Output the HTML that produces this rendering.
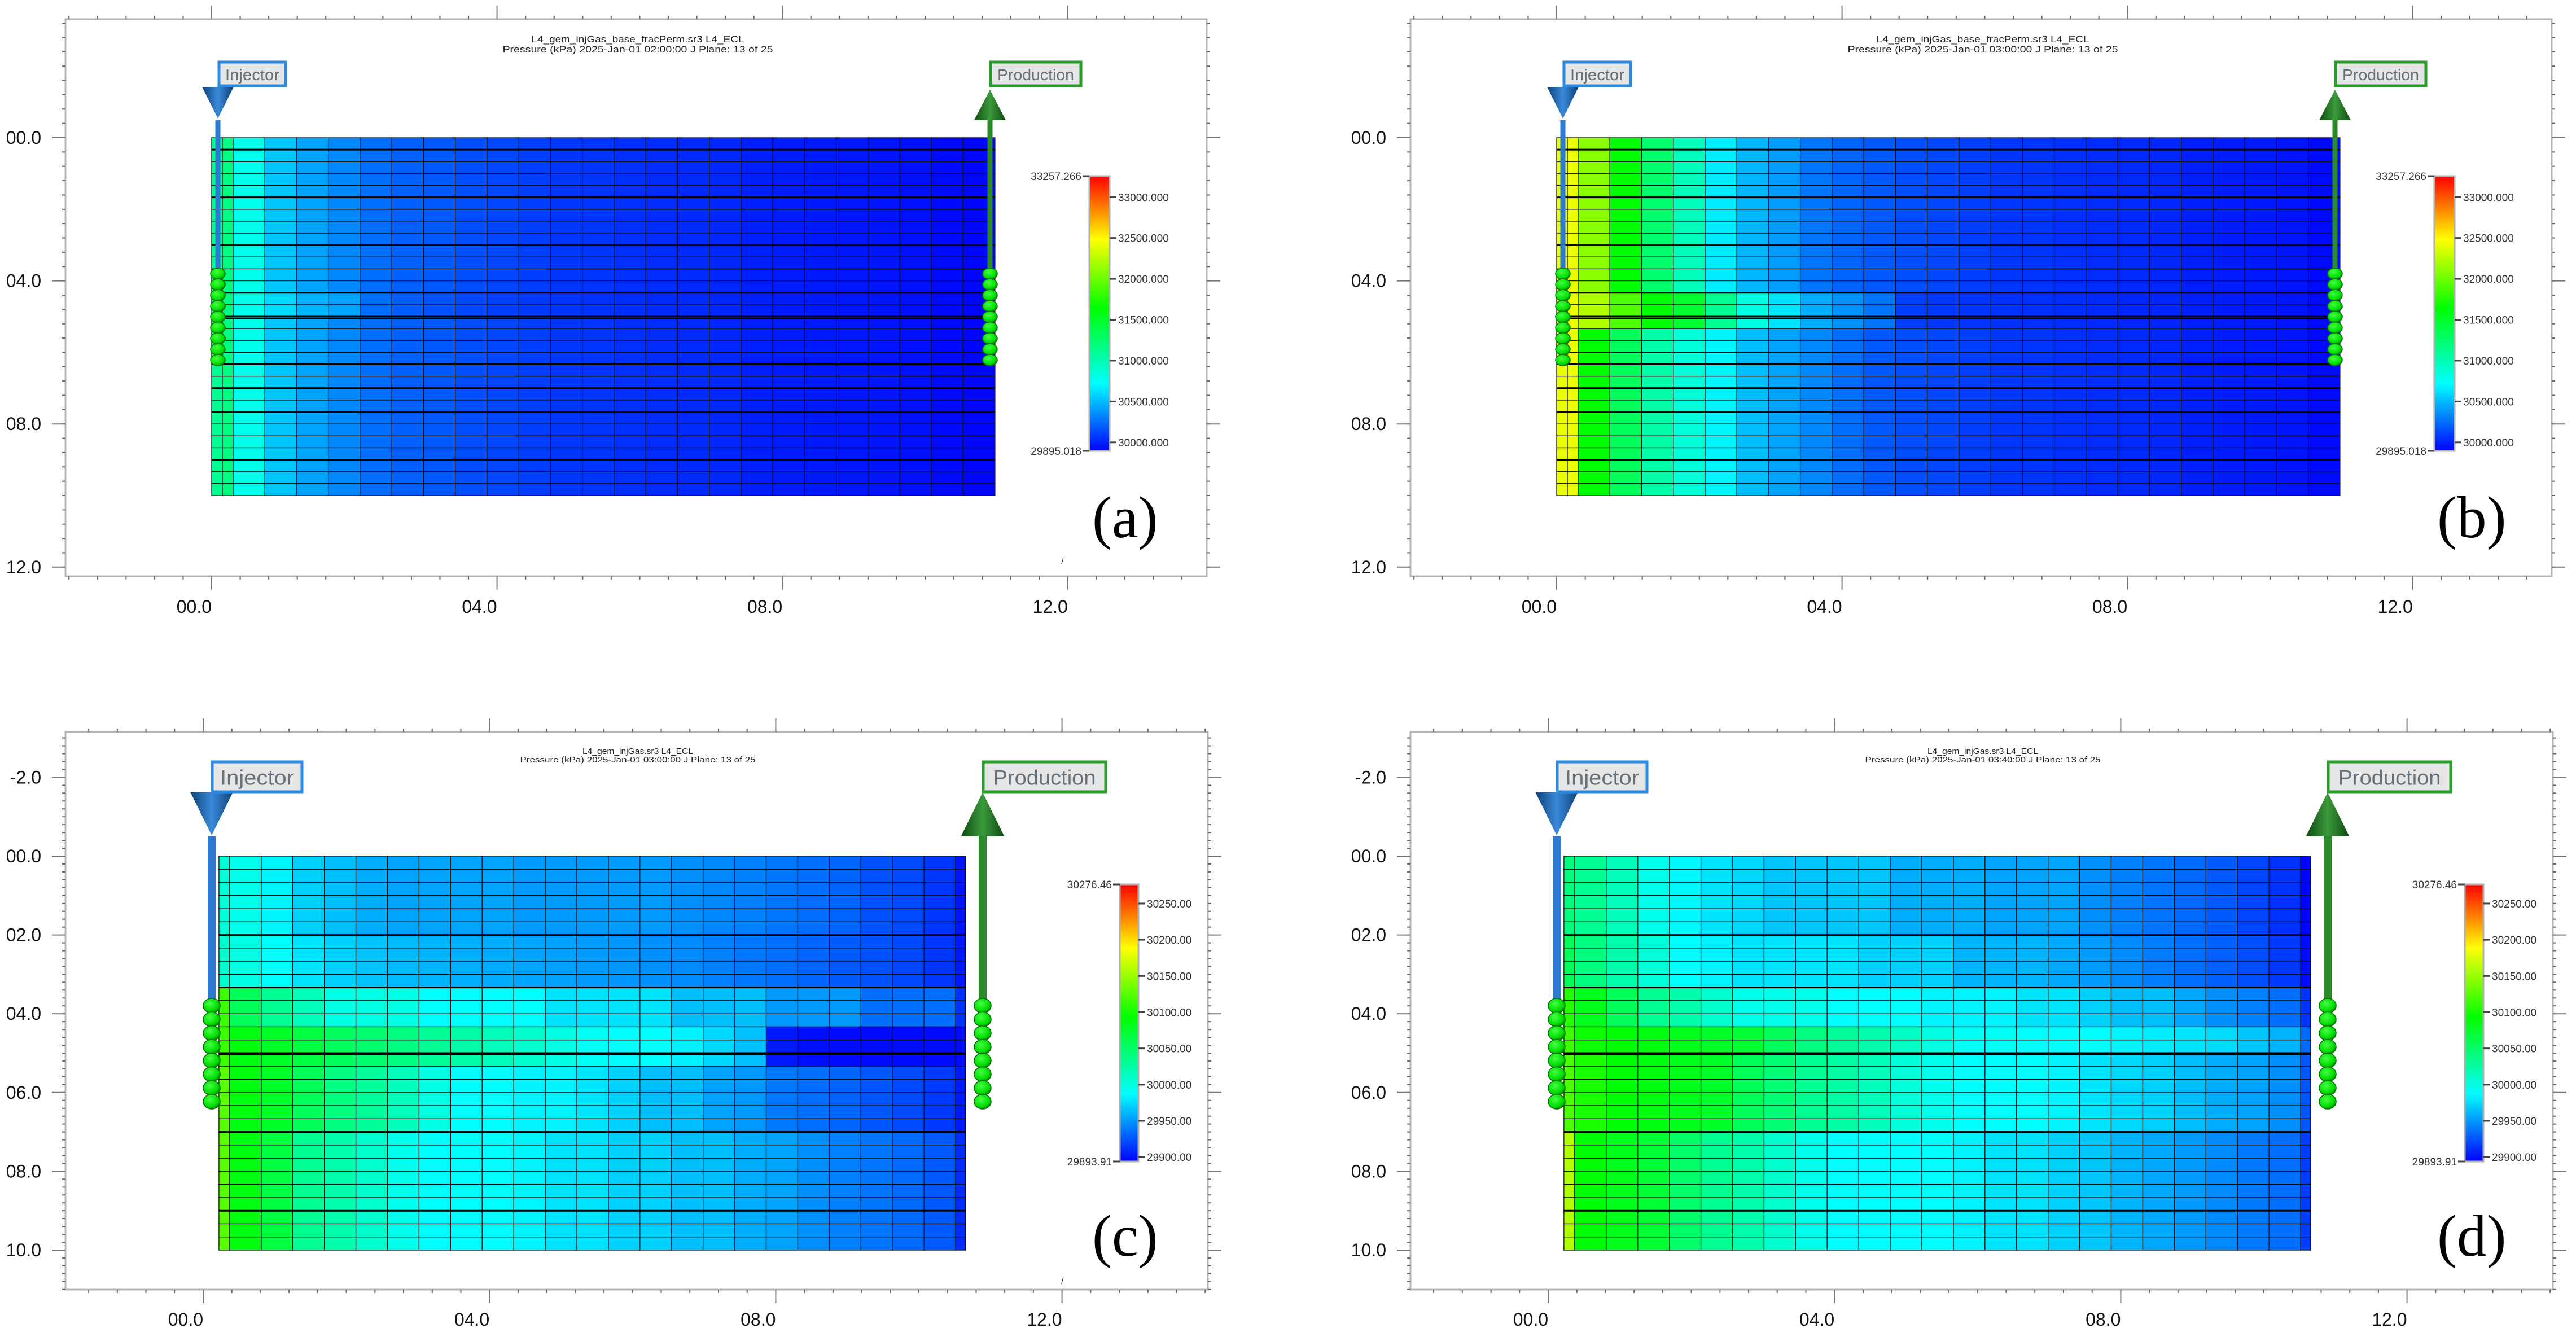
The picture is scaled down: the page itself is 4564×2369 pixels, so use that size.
<!DOCTYPE html>
<html><head><meta charset="utf-8"><title>Pressure panels</title>
<style>html,body{margin:0;padding:0;background:#fff}svg{display:block}</style></head>
<body>
<svg id="fig" xmlns="http://www.w3.org/2000/svg" width="4564" height="2369" viewBox="0 0 4564 2369">
<defs>
<linearGradient id="injGrad" x1="0" x2="1" y1="0" y2="0"><stop offset="0" stop-color="#0d3f78"/><stop offset="0.5" stop-color="#3a8ad8"/><stop offset="1" stop-color="#0d3f78"/></linearGradient>
<linearGradient id="prodGrad" x1="0" x2="1" y1="0" y2="0"><stop offset="0" stop-color="#0f4a12"/><stop offset="0.5" stop-color="#3c9a3c"/><stop offset="1" stop-color="#0f4a12"/></linearGradient>
<radialGradient id="ballGrad" cx="0.4" cy="0.35" r="0.7"><stop offset="0" stop-color="#44ff44"/><stop offset="0.7" stop-color="#00dd00"/><stop offset="1" stop-color="#007700"/></radialGradient>
<linearGradient id="cbGrad" x1="0" x2="0" y1="1" y2="0">
<stop offset="0" stop-color="#0000ff"/><stop offset="0.245" stop-color="#00ffff"/><stop offset="0.52" stop-color="#00ff00"/><stop offset="0.77" stop-color="#ffff00"/><stop offset="1" stop-color="#ff0000"/></linearGradient>
</defs>
</svg>
<script>
// ---- data: pressure (kPa) per column for row bands ----
const rowsCount = 30;
const aMain = [31206,31273,30904,30635,30500,30400,30300,30248,30222,30184,30157,30127,30097,30088,30070,30058,30046,30040,30010,30000,29990,29975,29965,29950,29930,29915];
const aFrac = [31206,31273,30904,30700,30560,30500,30300,30240,30200,30160,30130,30110,30090,30080,30065,30055,30046,30040,30010,30000,29990,29975,29965,29950,29930,29915];
const bMain = [32517,32517,32180,31710,31340,31070,30770,30570,30470,30330,30265,30222,30184,30157,30127,30097,30088,30070,30058,30046,30040,30010,30000,29990,29965,29930];
const bFrac = [32517,32517,32316,31980,31710,31542,31206,30937,30736,30534,30433,30330,30127,30100,30090,30080,30070,30060,30050,30040,30030,30010,30000,29990,29965,29930];
const bLow  = [32517,32517,31710,31400,31140,30970,30800,30600,30500,30400,30300,30222,30184,30157,30127,30097,30088,30070,30058,30046,30040,30010,30000,29990,29965,29930];
const cB1 = [30016,30009,29997,29982,29974,29967,29963,29963,29963,29963,29959,29959,29959,29959,29959,29955,29951,29948,29944,29940,29936,29928,29925,29917,29902];
const cB2 = [30020,30012,30002,29990,29982,29976,29972,29970,29968,29966,29963,29961,29959,29957,29955,29952,29948,29944,29940,29936,29932,29928,29924,29917,29904];
const cB3 = [30124,30066,30043,30028,30012,30012,30012,30000,30000,30000,30000,29990,29990,29990,29990,29974,29974,29974,29958,29958,29958,29940,29940,29940,29915];
const cB4 = [30124,30095,30085,30075,30065,30058,30050,30042,30035,30028,30020,30012,30005,30000,30000,29995,29985,29975,29905,29900,29898,29898,29898,29898,29898];
const cB5 = [30135,30095,30085,30066,30051,30040,30028,30012,30000,30000,29996,29996,29990,29982,29974,29974,29963,29958,29945,29940,29936,29930,29925,29918,29905];
const cB6 = [30135,30095,30075,30043,30033,30020,30008,30000,30000,30000,29997,29990,29990,29982,29982,29974,29974,29967,29963,29955,29948,29943,29938,29932,29913];
const dB1 = [30051,30043,30028,30009,29998,29990,29985,29978,29978,29978,29978,29967,29967,29967,29963,29963,29963,29955,29948,29943,29938,29932,29923,29915,29895];
const dB2 = [30066,30051,30033,30016,30000,29996,29990,29990,29990,29990,29982,29982,29982,29970,29970,29970,29965,29959,29952,29946,29940,29934,29926,29918,29898];
const dB3 = [30115,30090,30066,30043,30033,30020,30009,30009,30009,30000,30000,30000,29996,29996,29996,29990,29990,29982,29974,29974,29965,29955,29948,29940,29915];
const dB4 = [30125,30105,30098,30095,30090,30085,30080,30066,30051,30040,30033,30025,30012,30005,30005,30000,30000,30000,29996,29993,29990,29986,29978,29970,29938];
const dB5 = [30130,30110,30098,30095,30090,30085,30066,30055,30043,30036,30028,30016,30009,30002,30000,30000,29996,29990,29985,29982,29974,29967,29963,29955,29930];
const dB6 = [30170,30098,30090,30080,30060,30043,30033,30020,30009,30000,30000,30000,30000,29996,29990,29990,29982,29978,29970,29965,29959,29952,29945,29940,29920];
// band index per row (30 rows)
const aRowBand = [0,0,0,0,0,0,0,0,0,0,0,0,0,1,1,0,0,0,0,0,0,0,0,0,0,0,0,0,0,0];
const bRowBand = [0,0,0,0,0,0,0,0,0,0,0,0,0,1,1,1,2,2,2,2,2,2,2,2,2,2,2,2,2,2];
const cRowBand = [0,0,0,0,0,0,1,1,1,1,2,2,2,3,3,3,4,4,4,4,4,5,5,5,5,5,5,5,5,5];
const dRowBand = [0,0,0,0,0,0,1,1,1,1,2,2,2,3,3,4,4,4,4,4,4,5,5,5,5,5,5,5,5,5];
// colorbar ranges / ticks
const abRange = [29895.018, 33257.266];
const cdRange = [29893.91, 30276.46];
const abCbTicks = [30000,30500,31000,31500,32000,32500,33000];
const cdCbTicks = [29900,29950,30000,30050,30100,30150,30200,30250];
const abYTicks = [0,4,8,12];
const abYLabels = ["00.0","04.0","08.0","12.0"];
const cdYTicks = [-2,0,2,4,6,8,10];
const cdYLabels = ["-2.0","00.0","02.0","04.0","06.0","08.0","10.0"];
const xTicks = [0,4,8,12];
const xLabels = ["00.0","04.0","08.0","12.0"];
const abThick = [1,5,9,13,15,19,21,23,27];
const cdThick = [6,10,15,21,27];

const NS = "http://www.w3.org/2000/svg";
const svg = document.getElementById('fig');
function mk(tag, attrs, parent){const e=document.createElementNS(NS,tag);for(const k in attrs)e.setAttribute(k,attrs[k]);(parent||svg).appendChild(e);return e;}
const stops=[[0,[0,0,255]],[0.28,[0,255,255]],[0.54,[0,255,0]],[0.8,[255,255,0]],[1,[255,0,0]]];
function cmap(t){t=Math.max(0,Math.min(1,t));for(let i=1;i<stops.length;i++){if(t<=stops[i][0]){const a=stops[i-1],b=stops[i];const f=(t-a[0])/(b[0]-a[0]);const c=a[1].map((v,j)=>Math.round(v+(b[1][j]-v)*f));return `rgb(${c[0]},${c[1]},${c[2]})`;}}return 'rgb(255,0,0)';}

const AB = {x0:375,sx:126.4,y0:244,sy:63.4,frame:[116,34,2138,1021],gridLeft:0,colW:[0.15,0.15].concat(Array(24).fill(0.445)),
  cb:{x:1930,y:312,w:36,h:487},range:abRange,cbTicks:abCbTicks,dec:3,yT:abYTicks,yL:abYLabels,yMinor:0.4,thick:abThick,frac:5.05,
  title:{cx:1130,y1:75,y2:93,l1:377,l2:479,fs:17},xLabY:1086,
  inj:{cx:386,triTop:154,triBot:210,half:28,pipeTop:213,pipeBot:638,pw:9,balls:[485,638],nb:9,rx:13,ry:10,box:[388,110,118,42],fs:28,tw:96},
  prod:{cx:1754,triTop:159,triBot:213,half:28,box:[1755,110,160,42],tw:136},
  letter:{x:1935,y:952,fs:105}, slash:[1880,1000]};
const CD = {x0:360,sx:126.8,y0:1517,sy:69.8,frame:[116,1297,2140,2285],gridLeft:0.22,colW:[0.15].concat(Array(23).fill(0.441)).concat([0.14]),
  cb:{x:1984,y:1567,w:33,h:491},range:cdRange,cbTicks:cdCbTicks,dec:2,yT:cdYTicks,yL:cdYLabels,yMinor:0.2,thick:cdThick,frac:5.03,
  title:{cx:1130,y1:1336,y2:1351,l1:196,l2:417,fs:15},xLabY:2349,
  inj:{cx:375,triTop:1403,triBot:1480,half:38,pipeTop:1482,pipeBot:1773,pw:14,balls:[1782,1952],nb:8,rx:15,ry:13,box:[376,1350,159,53],fs:37,tw:131},
  prod:{cx:1741,triTop:1404,triBot:1481,half:38,box:[1742,1350,217,53],tw:182},
  letter:{x:1935,y:2225,fs:105}, slash:[1880,2275]};

const panels = [
 {id:'a',dx:0,g:AB,bands:[aMain,aFrac],rb:aRowBand,t1:'L4_gem_injGas_base_fracPerm.sr3 L4_ECL',t2:'Pressure (kPa)  2025-Jan-01 02:00:00   J Plane: 13 of 25',slash:true},
 {id:'b',dx:2383,g:AB,bands:[bMain,bFrac,bLow],rb:bRowBand,t1:'L4_gem_injGas_base_fracPerm.sr3 L4_ECL',t2:'Pressure (kPa)  2025-Jan-01 03:00:00   J Plane: 13 of 25',slash:false},
 {id:'c',dx:0,g:CD,bands:[cB1,cB2,cB3,cB4,cB5,cB6],rb:cRowBand,t1:'L4_gem_injGas.sr3 L4_ECL',t2:'Pressure (kPa)  2025-Jan-01 03:00:00   J Plane: 13 of 25',slash:true},
 {id:'d',dx:2383,g:CD,bands:[dB1,dB2,dB3,dB4,dB5,dB6],rb:dRowBand,t1:'L4_gem_injGas.sr3 L4_ECL',t2:'Pressure (kPa)  2025-Jan-01 03:40:00   J Plane: 13 of 25',slash:false}
];

panels.forEach(p=>{
  const g=p.g, dx=p.dx;
  const X=u=>dx+g.x0+u*g.sx, Y=v=>g.y0+v*g.sy;
  const grp=mk('g',{});
  
  
  const [fx1,fy1,fx2,fy2]=g.frame;
  const fr=mk('rect',{x:fx1+dx,y:fy1,width:fx2-fx1,height:fy2-fy1,fill:'none',stroke:'#b4b4b4','stroke-width':3},grp);
  
  
  const uMin=(fx1+dx-X(0))/g.sx, uMax=(fx2+dx-X(0))/g.sx;
  for(let u=Math.ceil(uMin/0.4)*0.4;u<uMax;u+=0.4){
    const x=X(u);
    mk('line',{x1:x,x2:x,y1:fy1-6,y2:fy1,stroke:'#666','stroke-width':2},grp);
    mk('line',{x1:x,x2:x,y1:fy2,y2:fy2+6,stroke:'#666','stroke-width':2},grp);
  }
  const vMin=(fy1-g.y0)/g.sy, vMax=(fy2-g.y0)/g.sy;
  for(let v=Math.ceil(vMin/g.yMinor)*g.yMinor;v<vMax;v+=g.yMinor){
    const y=Y(v);
    mk('line',{x1:fx1+dx-6,x2:fx1+dx,y1:y,y2:y,stroke:'#666','stroke-width':2},grp);
    mk('line',{x1:fx2+dx,x2:fx2+dx+6,y1:y,y2:y,stroke:'#666','stroke-width':2},grp);
  }
  g.yT.forEach((v,i)=>{
    const y=Y(v);
    mk('line',{x1:fx1+dx-24,x2:fx1+dx,y1:y,y2:y,stroke:'#777','stroke-width':2},grp);
    mk('line',{x1:fx2+dx,x2:fx2+dx+24,y1:y,y2:y,stroke:'#777','stroke-width':2},grp);
    const t=mk('text',{x:dx+73,y:y+11,'text-anchor':'end','font-size':32,'font-family':'Liberation Sans, sans-serif',fill:'#111'},grp);
    t.textContent=g.yL[i];
    
    
  });
  xTicks.forEach((u,i)=>{
    const x=X(u);
    mk('line',{x1:x,x2:x,y1:fy1-24,y2:fy1,stroke:'#777','stroke-width':2},grp);
    mk('line',{x1:x,x2:x,y1:fy2,y2:fy2+24,stroke:'#777','stroke-width':2},grp);
    const t=mk('text',{x:x,y:g.xLabY,'text-anchor':'end','font-size':32,'font-family':'Liberation Sans, sans-serif',fill:'#111'},grp);
    t.textContent=xLabels[i];
    
    
  });
  const t1=mk('text',{x:dx+g.title.cx,y:g.title.y1,'text-anchor':'middle','font-size':g.title.fs,'font-family':'Liberation Sans, sans-serif',fill:'#222',textLength:g.title.l1,lengthAdjust:'spacingAndGlyphs'},grp);
  t1.textContent=p.t1;
  
  
  const t2=mk('text',{x:dx+g.title.cx,y:g.title.y2,'text-anchor':'middle','font-size':g.title.fs,'font-family':'Liberation Sans, sans-serif',fill:'#222',textLength:g.title.l2,lengthAdjust:'spacingAndGlyphs'},grp);
  t2.textContent=p.t2;
  
  
  const [lo,hi]=g.range;
  const edges=[g.gridLeft]; g.colW.forEach(w=>edges.push(edges[edges.length-1]+w));
  const cells=mk('g',{},grp);
  
  
  for(let r=0;r<rowsCount;r++){
    const vals=p.bands[p.rb[r]];
    const y1=Y(r*10/rowsCount), y2=Y((r+1)*10/rowsCount);
    for(let c=0;c<g.colW.length;c++){
      const val=vals[c];
      const x1=X(edges[c]), x2=X(edges[c+1]);
      const cell=mk('rect',{x:x1,y:y1,width:x2-x1,height:y2-y1,fill:cmap((val-lo)/(hi-lo)),stroke:'#111','stroke-width':1.3},cells);
      
      
    }
  }
  const gx1=X(edges[0]), gx2=X(edges[edges.length-1]);
  g.thick.forEach(k=>{const y=Y(k*10/rowsCount);mk('line',{x1:gx1,x2:gx2,y1:y,y2:y,stroke:'#000','stroke-width':3},cells);});
  mk('line',{x1:gx1,x2:gx2,y1:Y(g.frac),y2:Y(g.frac),stroke:'#000','stroke-width':2},cells);
  const drawWell=(w,isInj,label)=>{
    const wg=mk('g',{},grp);
    
    
    const cx=dx+w.cx;
    const pipeCol=isInj?'#2a7bd0':'#2a8a2a';
    mk('rect',{x:cx-g.inj.pw/2,y:isInj?g.inj.pipeTop:w.triBot,width:g.inj.pw,height:g.inj.pipeBot-(isInj?g.inj.pipeTop:w.triBot),fill:pipeCol},wg);
    if(isInj) mk('polygon',{points:`${cx-w.half},${w.triTop} ${cx+w.half},${w.triTop} ${cx},${w.triBot}`,fill:'url(#injGrad)'},wg);
    else mk('polygon',{points:`${cx-w.half},${w.triBot} ${cx+w.half},${w.triBot} ${cx},${w.triTop}`,fill:'url(#prodGrad)'},wg);
    const [b0,b1]=g.inj.balls;
    for(let i=0;i<g.inj.nb;i++){
      const cy=b0+(b1-b0)*i/(g.inj.nb-1);
      const b=mk('ellipse',{cx:cx,cy:cy,rx:g.inj.rx,ry:g.inj.ry,fill:'url(#ballGrad)',stroke:'#0a6a0a','stroke-width':1.5},wg);
      
      
    }
    const [bx,by,bw,bh]=w.box;
    const box=mk('rect',{x:dx+bx,y:by,width:bw,height:bh,fill:'#e6e6e6',stroke:isInj?'#2b8ae0':'#2a9e2a','stroke-width':5},wg);
    
    
    const tx=mk('text',{x:dx+bx+bw/2,y:by+bh*0.76,'text-anchor':'middle','font-size':g.inj.fs,'font-family':'Liberation Sans, sans-serif',fill:'#66707a',textLength:w.tw,lengthAdjust:'spacingAndGlyphs'},wg);
    tx.textContent=label;
    
    
  };
  drawWell(g.inj,true,'Injector');
  drawWell(g.prod,false,'Production');
  const cb=g.cb;
  const cbg=mk('g',{},grp);
  
  
  mk('rect',{x:dx+cb.x,y:cb.y,width:cb.w,height:cb.h,fill:'url(#cbGrad)',stroke:'#b0b0b0','stroke-width':3},cbg);
  const CY=v=>cb.y+cb.h-(v-lo)/(hi-lo)*cb.h;
  g.cbTicks.forEach(v=>{
    const y=CY(v);
    mk('line',{x1:dx+cb.x+cb.w,x2:dx+cb.x+cb.w+12,y1:y,y2:y,stroke:'#444','stroke-width':3},cbg);
    const t=mk('text',{x:dx+cb.x+cb.w+15,y:y+7,'font-size':19,'font-family':'Liberation Sans, sans-serif',fill:'#333'},cbg);
    t.textContent=v.toFixed(g.dec);
    
    
  });
  [[hi,cb.y],[lo,cb.y+cb.h]].forEach(([v,y])=>{
    mk('line',{x1:dx+cb.x-12,x2:dx+cb.x,y1:y,y2:y,stroke:'#444','stroke-width':3},cbg);
    const t=mk('text',{x:dx+cb.x-14,y:y+7,'text-anchor':'end','font-size':19,'font-family':'Liberation Sans, sans-serif',fill:'#333'},cbg);
    t.textContent=v.toFixed(g.dec);
    
    
  });
  const L=mk('text',{x:dx+g.letter.x,y:g.letter.y,'font-size':g.letter.fs,'font-family':'Liberation Serif, serif',fill:'#000'},grp);
  L.textContent='('+p.id+')';
  
  
  if(p.slash){
    const s=mk('text',{x:dx+g.slash[0],y:g.slash[1],'font-size':16,'font-family':'Liberation Sans, sans-serif',fill:'#333'},grp);
    s.textContent='/';
    
    
  }
});
</script>
</body></html>
